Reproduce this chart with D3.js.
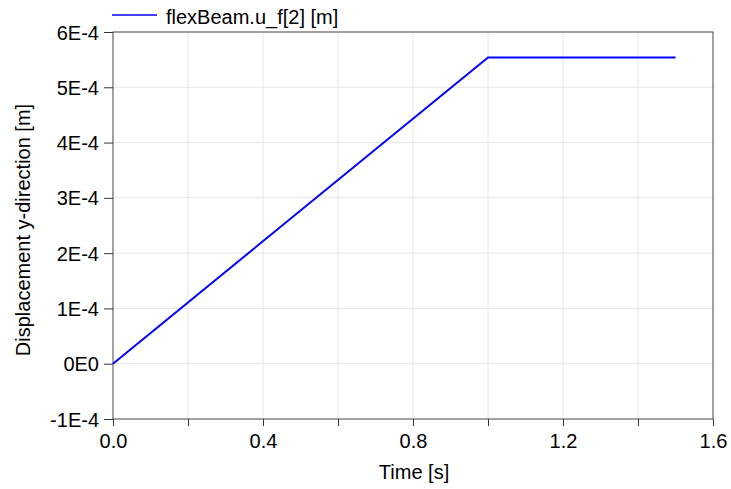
<!DOCTYPE html>
<html>
<head>
<meta charset="utf-8">
<script src="https://cdn.jsdelivr.net/npm/d3@7"></script>
<style>
  body { margin: 0; background: #fff; }
  svg text { font-family: "Liberation Sans", Arial, sans-serif; fill: #000; }
</style>
</head>
<body>
<svg id="chart" width="731" height="489"></svg>
<script>
// data
const time = [0.0, 1.0, 1.5];
const displacement = [0, 5.54e-4, 5.54e-4];
const seriesName = "flexBeam.u_f[2] [m]";
const xTicks = [0, 0.2, 0.4, 0.6, 0.8, 1.0, 1.2, 1.4, 1.6];
const xLabelTicks = [0, 0.4, 0.8, 1.2, 1.6];
const yTicks = [-1e-4, 0, 1e-4, 2e-4, 3e-4, 4e-4, 5e-4, 6e-4];

const svg = d3.select("#chart");
const margin = {top: 32, right: 18, bottom: 70, left: 113};
const width = +svg.attr("width"), height = +svg.attr("height");
const fs = 20;

const x = d3.scaleLinear().domain([0, 1.6]).range([margin.left, width - margin.right]);
const y = d3.scaleLinear().domain([-1e-4, 6e-4]).range([height - margin.bottom, margin.top]);

// grid
svg.append("g").selectAll("line").data(xTicks.slice(1, -1)).join("line")
  .attr("x1", d => x(d)).attr("x2", d => x(d))
  .attr("y1", y(-1e-4)).attr("y2", y(6e-4))
  .attr("stroke", "#e6e6e6").attr("stroke-width", 1);
svg.append("g").selectAll("line").data(yTicks.slice(1, -1)).join("line")
  .attr("y1", d => y(d)).attr("y2", d => y(d))
  .attr("x1", x(0)).attr("x2", x(1.6))
  .attr("stroke", "#e6e6e6").attr("stroke-width", 1);

const fmtY = d => {
  if (Math.abs(d) < 1e-12) return "0E0";
  return Math.round(d / 1e-4) + "E-4";
};

// axes
const xAxis = svg.append("g")
  .attr("transform", `translate(0,${y(-1e-4)})`)
  .call(d3.axisBottom(x).tickValues(xTicks).tickSize(7).tickPadding(3)
    .tickFormat(d => xLabelTicks.some(v => Math.abs(v - d) < 1e-9) ? d.toFixed(1) : ""));
const yAxis = svg.append("g")
  .attr("transform", `translate(${x(0)},0)`)
  .call(d3.axisLeft(y).tickValues(yTicks).tickSize(9).tickPadding(5).tickFormat(fmtY));

[xAxis, yAxis].forEach(g => {
  g.select(".domain").remove();
  g.selectAll(".tick line").attr("stroke", "#333");
  g.selectAll(".tick text").attr("font-size", fs).attr("font-family", "Liberation Sans, Arial, sans-serif").attr("fill", "#000");
});
xAxis.selectAll(".tick text").attr("dy", "0.95em");
yAxis.selectAll(".tick text").attr("dy", "0.35em");

// frame
svg.append("rect")
  .attr("x", x(0)).attr("y", y(6e-4))
  .attr("width", x(1.6) - x(0)).attr("height", y(-1e-4) - y(6e-4))
  .attr("fill", "none").attr("stroke", "#444").attr("stroke-width", 1);

// line
const pts = time.map((t, i) => [t, displacement[i]]);
svg.append("path").datum(pts)
  .attr("fill", "none").attr("stroke", "#0000ff").attr("stroke-width", 2)
  .attr("stroke-linejoin", "round")
  .attr("d", d3.line().x(d => x(d[0])).y(d => y(d[1])));

// legend
svg.append("line").attr("x1", 112).attr("x2", 157).attr("y1", 15).attr("y2", 15)
  .attr("stroke", "#0000ff").attr("stroke-width", 1.3);
svg.append("text").attr("x", 166).attr("y", 24).attr("font-size", fs).text(seriesName);

// axis titles
svg.append("text").attr("x", 414).attr("y", 479)
  .attr("text-anchor", "middle").attr("font-size", fs).text("Time [s]");
svg.append("text")
  .attr("transform", `translate(30,230) rotate(-90)`)
  .attr("text-anchor", "middle").attr("font-size", fs).text("Displacement y-direction [m]");
</script>
</body>
</html>
